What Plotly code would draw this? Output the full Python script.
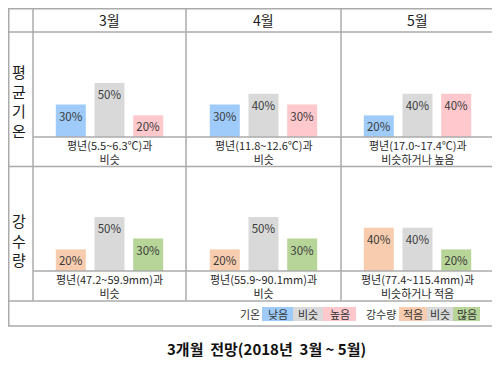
import plotly.graph_objects as go

# ---- data ----
months = ["3월", "4월", "5월"]
temp_cats = ["낮음", "비슷", "높음"]
prec_cats = ["적음", "비슷", "많음"]
temp_vals = [[30, 50, 20], [30, 40, 30], [20, 40, 40]]
prec_vals = [[20, 50, 30], [20, 50, 30], [40, 40, 20]]
temp_desc = [["평년(5.5~6.3℃)과", "비슷"],
             ["평년(11.8~12.6℃)과", "비슷"],
             ["평년(17.0~17.4℃)과", "비슷하거나 높음"]]
prec_desc = [["평년(47.2~59.9mm)과", "비슷"],
             ["평년(55.9~90.1mm)과", "비슷"],
             ["평년(77.4~115.4mm)과", "비슷하거나 적음"]]
row_labels = ["평균기온", "강수량"]
title_text = "3개월\u00a0 전망(2018년\u00a0 3월 ~ 5월)"
legend_temp_name = "기온"
legend_prec_name = "강수량"

# ---- styles ----
OFF = 8  # page body margin
W, H = 500 - OFF, 369 - OFF
FONT = "Noto Sans CJK KR"
temp_colors = ["#9ECBFA", "#D9D9D9", "#FFC8CC"]
prec_colors = ["#F8CCAE", "#D9D9D9", "#B7D598"]
LINE = "#ABABAB"


def px(x):
    return (x - OFF) / W


def py(y):
    return 1 - (y - OFF) / H


L, R, T, B = OFF + 0.75, 494, OFF + 0.75, 326
cols = [(33, 186), (186, 341), (341, 494)]
rows = [(32, 137, 166), (166, 271, 301)]  # top, baseline, bottom
spacing = 38.7
bar_w = 30
pct_per_px = 1 / 1.08

fig = go.Figure()
shapes = []
annotations = []


def ann(x, y, text, size, color, **kw):
    d = dict(x=px(x), y=py(y), xref="paper", yref="paper", text=text,
             showarrow=False, xanchor="center", yanchor="middle",
             font=dict(family=FONT, size=size, color=color))
    d.update(kw)
    annotations.append(d)


n = 0
for r, (vals_all, cats, colors, descs) in enumerate(
        [(temp_vals, temp_cats, temp_colors, temp_desc),
         (prec_vals, prec_cats, prec_colors, prec_desc)]):
    top, base, bottom = rows[r]
    for c in range(3):
        n += 1
        xa = "x" if n == 1 else f"x{n}"
        ya = "y" if n == 1 else f"y{n}"
        x0, x1 = cols[c]
        half = (x1 - x0) / (2 * spacing)
        fig.add_trace(go.Bar(
            x=cats, y=vals_all[c],
            marker=dict(color=colors, line=dict(width=0)),
            text=[f"{v}%" for v in vals_all[c]],
            textposition="inside", insidetextanchor="end",
            textangle=0, constraintext="none",
            textfont=dict(family=FONT, size=11.5, color="#3A3A3A"),
            width=bar_w / spacing,
            xaxis=xa, yaxis=ya, hoverinfo="skip", showlegend=False))
        fig.update_layout(**{
            ("xaxis" if n == 1 else f"xaxis{n}"): dict(
                domain=[px(x0), px(x1)], range=[1 - half, 1 + half],
                visible=False, anchor=ya, type="category"),
            ("yaxis" if n == 1 else f"yaxis{n}"): dict(
                domain=[py(base), py(top)],
                range=[0, (base - top) * pct_per_px],
                visible=False, anchor=xa),
        })
        cx = (x0 + x1) / 2
        ann(cx, base + 14.5, "<br>".join(descs[c]), 11, "#2A2A2A")

# month headers
for c, m in enumerate(months):
    x0, x1 = cols[c]
    ann((x0 + x1) / 2, 20, m, 14, "#1A1A1A")

# row labels (vertical, one char per line)
label_mid = [101, 240]
for r, lab in enumerate(row_labels):
    ann(19, label_mid[r], "<br>".join(list(lab)), 15, "#1A1A1A")

# table lines


def hline(y, xa, xb):
    shapes.append(dict(type="line", xref="paper", yref="paper",
                       x0=px(xa), x1=px(xb), y0=py(y), y1=py(y),
                       line=dict(color=LINE, width=1.5)))


def vline(x, ya, yb):
    shapes.append(dict(type="line", xref="paper", yref="paper",
                       x0=px(x), x1=px(x), y0=py(ya), y1=py(yb),
                       line=dict(color=LINE, width=1.5)))


shapes.append(dict(type="rect", xref="paper", yref="paper",
                   x0=px(L), x1=px(R), y0=py(B), y1=py(T),
                   line=dict(color=LINE, width=1.5)))
hline(32, L, R)
hline(137, 33, R)
hline(166.5, L, R)
hline(271, 33, R)
hline(301, L, R)
for x in [33, 186, 341]:
    vline(x, T, 301)

# legend
box_y0, box_y1 = 307, 321
ann(250, 314, legend_temp_name, 11, "#333333")
ann(381, 314, legend_prec_name, 11, "#333333")
temp_boxes = [(262, 293), (293, 323), (323, 356)]
prec_boxes = [(399, 427), (427, 453), (453, 480)]
for boxes, cats, colors in [(temp_boxes, temp_cats, temp_colors),
                            (prec_boxes, prec_cats, prec_colors)]:
    for (a, b), cat, col in zip(boxes, cats, colors):
        shapes.append(dict(type="rect", xref="paper", yref="paper",
                           x0=px(a), x1=px(b), y0=py(box_y1), y1=py(box_y0),
                           line=dict(width=0), fillcolor=col, layer="below"))
        ann((a + b) / 2, 314, cat, 11, "#333333")

# title
ann(266, 348, f"<b>{title_text}</b>", 15, "#111111")

fig.update_layout(
    width=W, height=H, margin=dict(l=0, r=0, t=0, b=0),
    paper_bgcolor="white", plot_bgcolor="rgba(0,0,0,0)",
    shapes=shapes, annotations=annotations, barmode="group",
    showlegend=False,
)

fig.write_html("out.html")
